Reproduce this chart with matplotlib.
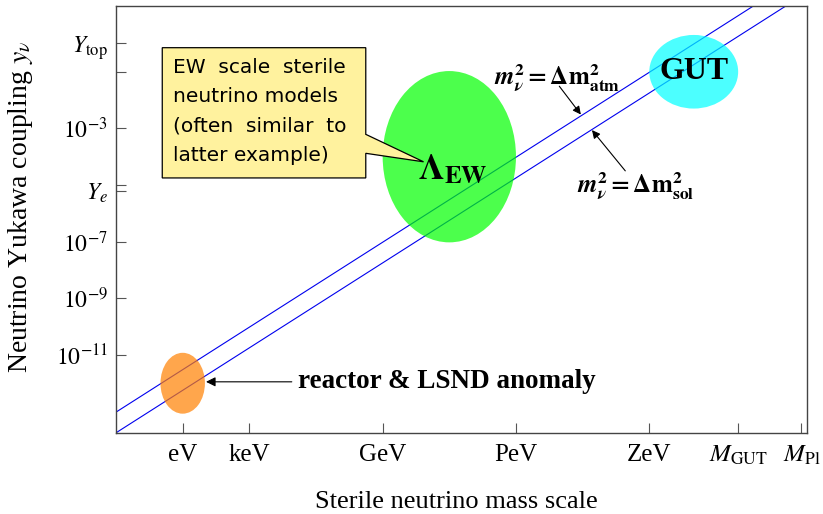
import matplotlib
matplotlib.use('Agg')
import matplotlib.pyplot as plt
from matplotlib.patches import Ellipse, Polygon
import numpy as np

plt.rcParams['mathtext.fontset'] = 'stix'
plt.rcParams['font.family'] = ['Liberation Serif', 'DejaVu Serif']

# x axis: log10(mass / eV), y axis: log10(yukawa)
xtick_pos = [0, 3, 9, 15, 21, 25, 27.85]
xtick_lab = ['eV', 'keV', 'GeV', 'PeV', 'ZeV', r'$M_{\mathrm{GUT}}$', r'$M_{\mathrm{Pl}}$']
ytick_pos = [0, -1, -3, -5, -5.2, -7, -9, -11]
ytick_lab = [r'$Y_{\mathrm{top}}$', '', r'$10^{-3}$', '', r'$Y_e$', r'$10^{-7}$', r'$10^{-9}$', r'$10^{-11}$']

# seesaw lines: log y = 0.5*log M + offset
line_names = ['atm', 'sol']
line_offsets = [-11.52, -12.25]

# regions: name, centre x, centre y, width, height, colour
region_names = ['reactor', 'EW', 'GUT']
region_x = [0, 12, 23]
region_y = [-12, -4, -1]
region_w = [2.0, 6.0, 4.0]
region_h = [2.15, 6.05, 2.6]
region_col = [(1, 0.5, 0), (0, 1, 0), (0, 1, 1)]

fig = plt.figure(figsize=(8.23, 5.14), dpi=100)
ax = fig.add_axes([0.141, 0.158, 0.8396, 0.8302])
ax.set_xlim(-3, 28.1)
ax.set_ylim(-13.75, 1.32)

xs = np.array([-3, 28.1])
for off in line_offsets:
    ax.plot(xs, 0.5 * xs + off, color='#0000ee', lw=0.8, zorder=1)

for i in range(len(region_names)):
    e = Ellipse((region_x[i], region_y[i]), region_w[i], region_h[i],
                facecolor=region_col[i], alpha=0.7, edgecolor='none', zorder=2)
    ax.add_patch(e)

# labels on regions
ax.text(12.15, -4.45, r'$\mathbf{\Lambda}_{\mathbf{EW}}$', fontsize=26, ha='center', va='center', zorder=5)
ax.text(23, -1.0, 'GUT', fontsize=23, fontweight='bold', ha='center', va='center', zorder=5)

arr = dict(arrowstyle='-|>', color='black', lw=0.8, shrinkA=0, shrinkB=0, mutation_scale=12)
ax.text(16.85, -1.25, r'$\mathbfit{m}_{\mathbfit{\nu}}^{\mathbf{2}}\mathbf{=\Delta m}^{\mathbf{2}}_{\mathbf{atm}}$',
        fontsize=18, ha='center', va='center', zorder=5)
ax.annotate('', xy=(17.92, -2.51), xytext=(16.95, -1.51), arrowprops=arr, zorder=5)
ax.text(20.4, -5.05, r'$\mathbfit{m}_{\mathbfit{\nu}}^{\mathbf{2}}\mathbf{=\Delta m}^{\mathbf{2}}_{\mathbf{sol}}$',
        fontsize=18, ha='center', va='center', zorder=5)
ax.annotate('', xy=(18.42, -3.06), xytext=(19.92, -4.50), arrowprops=arr, zorder=5)
ax.text(5.2, -11.95, 'reactor & LSND anomaly', fontsize=19.5, fontweight='bold',
        ha='left', va='center', zorder=5)
ax.annotate('', xy=(1.05, -11.95), xytext=(4.91, -11.95),
            arrowprops=dict(arr, mutation_scale=14), zorder=5)

# callout box
bx0, bx1, by0, by1 = -0.92, 8.24, -4.75, -0.15
box = Polygon([(bx0, by1), (bx1, by1), (bx1, -3.21), (10.84, -4.18), (bx1, -3.88),
               (bx1, by0), (bx0, by0)], closed=True, facecolor='#fff29e',
              edgecolor='black', lw=0.9, zorder=6)
ax.add_patch(box)
box_lines = ['EW  scale  sterile', 'neutrino models', '(often  similar  to', 'latter example)']
for k, s in enumerate(box_lines):
    ax.text(-0.42, -0.85 - 1.03 * k, s, fontsize=14.5, family=['DejaVu Sans'],
            ha='left', va='center', zorder=7)

ax.set_xticks(xtick_pos)
ax.set_xticklabels(xtick_lab)
ax.set_yticks(ytick_pos)
ax.set_yticklabels(ytick_lab)
ax.tick_params(direction='in', length=7, width=0.8, labelsize=17, color='#555555', pad=8)
ax.tick_params(axis='x', labelsize=18)
ax.tick_params(axis='y', pad=6)
for sp in ax.spines.values():
    sp.set_color('#444444')
    sp.set_linewidth(1.0)

ax.set_xlabel('Sterile neutrino mass scale', fontsize=19)
ax.xaxis.set_label_coords(0.493, -0.137)
ax.set_ylabel(r'Neutrino Yukawa coupling $y_\nu$', fontsize=20)
ax.yaxis.set_label_coords(-0.117, 0.53)

fig.savefig('out.png', dpi=100)
